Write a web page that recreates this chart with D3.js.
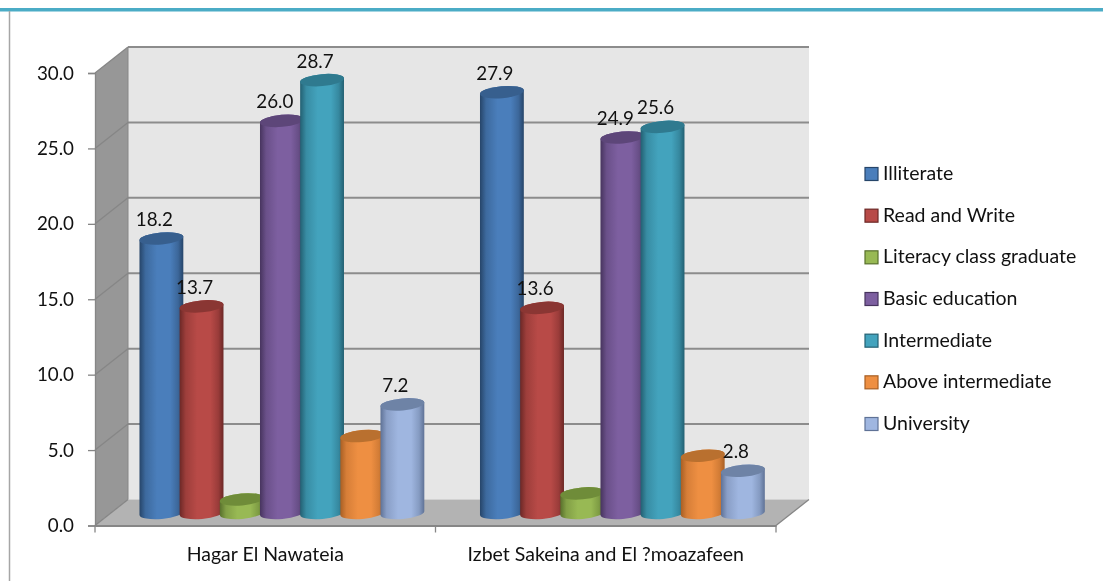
<!DOCTYPE html>
<html><head><meta charset="utf-8">
<script src="https://cdn.jsdelivr.net/npm/d3@7"></script>
<style>html,body{margin:0;padding:0;background:#fff}svg{display:block;filter:blur(0.3px)}text{font-family:Lato,"Open Sans",sans-serif;font-size:19.5px;fill:#111}</style>
</head><body><div id="c"></div>
<script>
const categories = ["Hagar El Nawateia", "Izbet Sakeina and El ?moazafeen"];
const seriesNames = ["Illiterate","Read and Write","Literacy class graduate","Basic education","Intermediate","Above intermediate","University"];
const hagar = [18.2,13.7,0.9,26.0,28.7,5.1,7.2];
const izbet = [27.9,13.6,1.3,24.9,25.6,3.8,2.8];
const labelled = [true,true,false,true,true,false,true];
const yTicks = [0,5,10,15,20,25,30];
const mid = ["#4a7ebb","#b84a47","#98b954","#7d5fa0","#43a3bd","#ee8f42","#9fb6e0"];
const edge = ["#264569","#6c2826","#58702c","#47345e","#236072","#a85f24","#5f7296"];
const cap  = ["#375f8e","#8a3633","#6f8c39","#5d4679","#2f7a8f","#b9702f","#6e83a6"];

const W=1103,H=581;
const dx=33,dy=-26;           // depth of the 3-D box
const y=d3.scaleLinear().domain([0,30]).range([525.5,73]);
const x=d3.scaleBand().domain(categories).range([95,776]);
const s=d3.scalePoint().domain(seriesNames).range([66.4,307.4]);
const rx=22,ry=6,tilt=-5,baseShift=-12.5;
const numSize="18.8px", txtSize="19.5px";
const svg=d3.select("#c").append("svg").attr("width",W).attr("height",H);
const defs=svg.append("defs");
seriesNames.forEach((n,i)=>{
  const g=defs.append("linearGradient").attr("id","g"+i);
  [[0,edge[i]],[.14,d3.interpolateRgb(edge[i],mid[i])(.65)],[.4,mid[i]],[.7,mid[i]],[.88,d3.interpolateRgb(edge[i],mid[i])(.6)],[1,edge[i]]]
   .forEach(([o,c])=>g.append("stop").attr("offset",o).attr("stop-color",c));
});

// frame
svg.append("rect").attr("x",0).attr("y",8).attr("width",W).attr("height",3.5).attr("fill","#4bacc6");
svg.append("line").attr("x1",9.5).attr("x2",9.5).attr("y1",11).attr("y2",H).attr("stroke","#a6a6a6").attr("stroke-width",1.5);

// box
const [x0,x1]=x.range(), y0=y(0), yT=y(30);
const poly=(pts,f)=>svg.append("polygon").attr("points",pts.map(p=>p.join(",")).join(" ")).attr("fill",f);
poly([[x0+dx,yT+dy],[x1+dx,yT+dy],[x1+dx,y0+dy],[x0+dx,y0+dy]],"#e6e6e6");
poly([[x0,yT],[x0+dx,yT+dy],[x0+dx,y0+dy],[x0,y0]],"#979797");
poly([[x0,y0],[x0+dx,y0+dy],[x1+dx,y0+dy],[x1,y0]],"#b3b3b3");

yTicks.forEach(t=>{
  const py=y(t);
  svg.append("line").attr("x1",x0).attr("y1",py).attr("x2",x0+dx).attr("y2",py+dy).attr("stroke","#868686").attr("stroke-width",1.3);
  if(t>0) svg.append("line").attr("x1",x0+dx).attr("y1",py+dy).attr("x2",x1+dx).attr("y2",py+dy).attr("stroke","#8c8c8c").attr("stroke-width",2);
});
svg.append("line").attr("x1",x1).attr("y1",y0).attr("x2",x1+dx).attr("y2",y0+dy).attr("stroke","#868686").attr("stroke-width",1.3);
svg.append("line").attr("x1",x0+dx).attr("y1",yT+dy).attr("x2",x0+dx).attr("y2",y0+dy).attr("stroke","#868686").attr("stroke-width",1);

// axes
const ay=svg.append("g").attr("transform",`translate(${x0},0)`)
  .call(d3.axisLeft(y).tickValues(yTicks).tickFormat(d3.format(".1f")).tickSize(7).tickPadding(14));
ay.select(".domain").attr("stroke","#868686").attr("stroke-width",1.3);
ay.selectAll(".tick line").attr("stroke","#868686").attr("stroke-width",1.3);
ay.selectAll("text").style("font-size",numSize).style("font-family",'Lato,sans-serif').attr("fill","#111");

const ax=svg.append("g").attr("transform",`translate(0,${y0})`)
  .call(d3.axisBottom(x).tickSize(0).tickPadding(22));
ax.select(".domain").attr("stroke","#868686").attr("stroke-width",2);
ax.selectAll("text").style("font-size",txtSize).style("font-family",'Lato,sans-serif').attr("fill","#111");
[x0,x0+x.bandwidth(),x1].forEach(v=>ax.append("line").attr("x1",v).attr("x2",v).attr("y1",0).attr("y2",7).attr("stroke","#868686").attr("stroke-width",1.3));

// cylinders
const rad=tilt*Math.PI/180, cs=Math.cos(rad)*rx, sn=Math.sin(rad)*rx;
[hagar,izbet].forEach((vals,gi)=>{
  const gx=x(categories[gi]);
  const g=svg.append("g");
  vals.forEach((v,i)=>{
    const cx=gx+s(seriesNames[i]);
    const b=y(0)+baseShift, t=y(v)+baseShift;
    g.append("path").attr("fill",`url(#g${i})`)
      .attr("d",`M${cx-cs},${t-sn}L${cx-cs},${b-sn}A${rx},${ry} ${tilt} 0 0 ${cx+cs},${b+sn}L${cx+cs},${t+sn}A${rx},${ry} ${tilt} 0 0 ${cx-cs},${t-sn}Z`);
    g.append("ellipse").attr("cx",cx).attr("cy",t).attr("rx",rx).attr("ry",ry)
      .attr("transform",`rotate(${tilt} ${cx} ${t})`).attr("fill",cap[i]);
  });
  vals.forEach((v,i)=>{
    if(!labelled[i]) return;
    svg.append("text").attr("x",gx+s(seriesNames[i])-7).attr("y",y(v)+baseShift-12.5)
      .attr("text-anchor","middle").style("font-size",numSize).text(d3.format(".1f")(v));
  });
});

// legend
const ly=d3.scalePoint().domain(seriesNames).range([174,424]);
seriesNames.forEach((n,i)=>{
  const g=svg.append("g").attr("transform",`translate(865,${ly(n)})`);
  g.append("rect").attr("x",0).attr("y",-6.5).attr("width",13).attr("height",13).attr("fill",mid[i]).attr("stroke",edge[i]).attr("stroke-width",1.2);
  g.append("text").attr("x",18).attr("y",6).text(n);
});
</script></body></html>
